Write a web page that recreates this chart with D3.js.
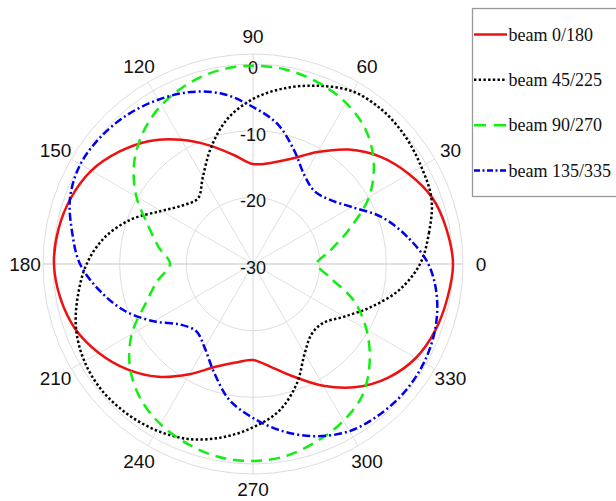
<!DOCTYPE html>
<html>
<head>
<meta charset="utf-8">
<script src="https://cdn.jsdelivr.net/npm/d3@7/dist/d3.min.js"></script>
<style>
  html, body { margin: 0; padding: 0; background: #fff; }
  svg { display: block; }
</style>
</head>
<body>
<svg id="chart" width="616" height="501"></svg>
<script>
// ---------- data ----------
const angles = [0,10,20,30,40,50,60,70,80,90,100,110,120,130,140,150,160,170,
                180,190,200,210,220,230,240,250,260,270,280,290,300,310,320,330,340,350];

const beam0_180   = [0,-0.5,-1.3,-3,-5,-7.6,-10.6,-13.2,-14.6,-15,-13.4,-11.1,-8.5,-5.9,-3.8,-2,-0.95,-0.35,
                     -0.15,-0.65,-1.6,-3.3,-5.4,-7.9,-10.9,-13.6,-15,-15.6,-14.3,-12,-8.9,-5.9,-3.5,-1.8,-0.9,-0.4];
const beam45_225  = [-4.95,-3.2,-1.5,-0.85,-0.2,0.15,-0.1,-1.55,-3.25,-5.25,-7.9,-11.5,-14.95,-17.15,-16.3,-14.1,-10.5,-7.35,
                     -5.05,-3.35,-1.75,-0.8,-0.45,-0.65,-1.15,-2.05,-3.6,-5.5,-7.6,-10.85,-14.5,-16.3,-16.25,-14.2,-11.15,-7.7];
const beam90_270  = [-20.4,-18.2,-14.6,-9.9,-6.35,-3.7,-2.1,-1.1,-0.45,-0.25,-0.5,-1.3,-2.5,-4.3,-6.7,-9.8,-13.3,-15.65,
                     -17.55,-15.45,-12.9,-9,-5.9,-3.7,-2.25,-1.3,-0.6,-0.45,-0.8,-1.75,-2.85,-4.4,-7.15,-10.35,-13.9,-18.25];
const beam135_335 = [-3.7,-6.5,-9.45,-12.9,-15,-15.7,-14.6,-11.9,-8.7,-6.45,-4.1,-2.55,-1.55,-0.75,-0.25,-0.1,-0.8,-2.45,
                     -4.05,-6.7,-9.5,-12.8,-15.85,-16.8,-15.5,-12.8,-9.35,-6.9,-4.55,-2.5,-1.05,-0.5,-0.25,-0.4,-0.95,-2];

const seriesNames = ["beam 0/180", "beam 45/225", "beam 90/270", "beam 135/335"];
const radialTicks = [-30, -20, -10, 0];
const gridCircles = [-20, -10, 0];
const rOuterValue = 1.5;
const angleTicks = [0,30,60,90,120,150,180,210,240,270,300,330];

// ---------- layout ----------
const cx = 253, cy = 264;
const r = d3.scaleLinear().domain([-30, 0]).range([0, 200]);
const rad = d3.scaleLinear().domain([0, 360]).range([0, 2 * Math.PI]);

const styles = [
  { color: "#ee1111", width: 2.5, dash: null },
  { color: "#000000", width: 2.5, dash: "2.4,2.3" },
  { color: "#11ee11", width: 2.5, dash: "11,7" },
  { color: "#0000ee", width: 2.5, dash: "8,3,2,3" }
];
const legendDash = [null, "2.4,2.3", "12,8", "6,2.5,2,2.5"];

const svg = d3.select("#chart");
svg.append("rect").attr("width", 616).attr("height", 501).attr("fill", "#fff");

const g = svg.append("g").attr("transform", `translate(${cx},${cy})`);

// grid circles
g.selectAll("circle.grid")
  .data(gridCircles.concat([rOuterValue]))
  .enter().append("circle")
  .attr("r", d => r(d))
  .attr("fill", "none")
  .attr("stroke", "#dedede")
  .attr("stroke-width", 1);

// spokes
g.selectAll("line.spoke")
  .data(angleTicks)
  .enter().append("line")
  .attr("x1", 0).attr("y1", 0)
  .attr("x2", d => r(rOuterValue) * Math.cos(rad(d)))
  .attr("y2", d => -r(rOuterValue) * Math.sin(rad(d)))
  .attr("stroke", d => (d % 180 === 0 || d % 180 === 90) ? "#d8d8d8" : "#e0e0e0")
  .attr("stroke-width", d => (d % 180 === 0) ? 1.3 : 1);

// radial labels
g.selectAll("text.rlab")
  .data(radialTicks)
  .enter().append("text")
  .attr("x", 0)
  .attr("y", d => -r(d) + 10)
  .attr("text-anchor", "middle")
  .attr("font-family", "'Liberation Sans', Arial, sans-serif")
  .attr("font-size", 18)
  .attr("fill", "#111")
  .text(d => d);

// angle labels
const labelR = d => (d === 270 ? 225 : 228);
g.selectAll("text.alab")
  .data(angleTicks)
  .enter().append("text")
  .attr("x", d => labelR(d) * Math.cos(rad(d)))
  .attr("y", d => -labelR(d) * Math.sin(rad(d)))
  .attr("dy", "0.35em")
  .attr("text-anchor", "middle")
  .attr("font-family", "'Liberation Sans', Arial, sans-serif")
  .attr("font-size", 19)
  .attr("fill", "#111")
  .text(d => d);

// curves
const allSeries = [beam0_180, beam45_225, beam90_270, beam135_335];
const line = d3.line()
  .x(d => r(d.v) * Math.cos(rad(d.a)))
  .y(d => -r(d.v) * Math.sin(rad(d.a)))
  .curve(d3.curveCatmullRomClosed.alpha(0.5));

allSeries.forEach((vals, i) => {
  const pts = angles.map((a, k) => ({ a: a, v: vals[k] }));
  const p = g.append("path")
    .attr("d", line(pts))
    .attr("fill", "none")
    .attr("stroke", styles[i].color)
    .attr("stroke-width", styles[i].width);
  if (styles[i].dash) p.attr("stroke-dasharray", styles[i].dash);
});

// legend
const lg = svg.append("g");
lg.append("rect")
  .attr("x", 472.5).attr("y", 8.5)
  .attr("width", 160).attr("height", 188)
  .attr("fill", "#fff")
  .attr("stroke", "#999")
  .attr("stroke-width", 1.3);

const legY = d3.scalePoint().domain(seriesNames).range([34.5, 170.5]);
seriesNames.forEach((name, i) => {
  const y = legY(name);
  const l = lg.append("line")
    .attr("x1", 474).attr("x2", 507)
    .attr("y1", y).attr("y2", y)
    .attr("stroke", styles[i].color)
    .attr("stroke-width", 2.5);
  if (legendDash[i]) l.attr("stroke-dasharray", legendDash[i]);
  lg.append("text")
    .attr("x", 508.5).attr("y", y + 6)
    .attr("font-family", "'Liberation Serif', 'Times New Roman', serif")
    .attr("font-size", 18)
    .attr("fill", "#111")
    .text(name);
});
</script>
</body>
</html>
